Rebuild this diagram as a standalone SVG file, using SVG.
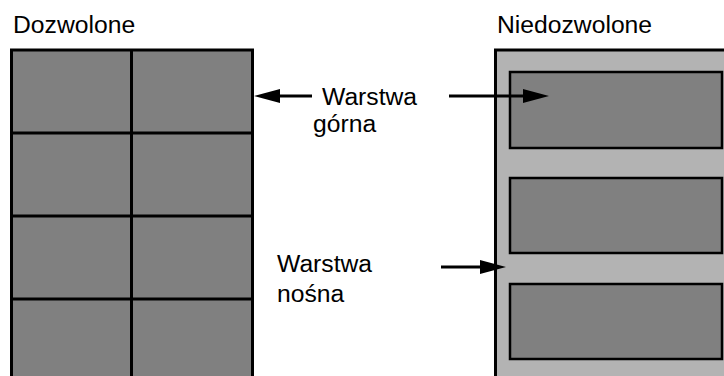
<svg xmlns="http://www.w3.org/2000/svg" width="724" height="376" viewBox="0 0 724 376">
<style>
.t{font-family:"Liberation Sans",Arial,sans-serif;font-size:24.7px;fill:#000}
.cell{fill:#808080;stroke:#000;stroke-width:3}
.inner{fill:#808080;stroke:#000;stroke-width:2.5}
.outer{fill:#b3b3b3;stroke:#000;stroke-width:3}
.ln{stroke:#000;stroke-width:3;fill:none}
.ah{fill:#000}
</style>
<rect width="724" height="376" fill="#fff"/>
<g id="allowed">
<text class="t" x="13" y="33">Dozwolone</text>
<rect class="cell" x="11.5" y="50" width="241" height="340"/>
<line class="ln" x1="131.5" y1="50" x2="131.5" y2="380"/>
<line class="ln" x1="11.5" y1="133" x2="252.5" y2="133"/>
<line class="ln" x1="11.5" y1="216" x2="252.5" y2="216"/>
<line class="ln" x1="11.5" y1="299" x2="252.5" y2="299"/>
</g>
<g id="notallowed">
<text class="t" x="497" y="33">Niedozwolone</text>
<rect class="outer" x="495.5" y="50" width="240" height="340"/>
<rect class="inner" x="510" y="72" width="212" height="76"/>
<rect class="inner" x="510" y="178" width="212" height="75"/>
<rect class="inner" x="510" y="284" width="212" height="75"/>
</g>
<g id="label-top">
<text class="t" x="322" y="105">Warstwa</text>
<text class="t" x="313" y="132">górna</text>
</g>
<g id="label-bottom">
<text class="t" x="277" y="272">Warstwa</text>
<text class="t" x="277" y="302">nośna</text>
</g>
<g id="connectors">
<line class="ln" x1="312" y1="96" x2="276" y2="96"/>
<polygon class="ah" points="254,96 280,89 280,103"/>
<line class="ln" x1="449" y1="96" x2="525" y2="96"/>
<polygon class="ah" points="549,96 523,89 523,103"/>
<line class="ln" x1="441" y1="267" x2="482" y2="267"/>
<polygon class="ah" points="506,267 480,260 480,274"/>
</g>
</svg>
